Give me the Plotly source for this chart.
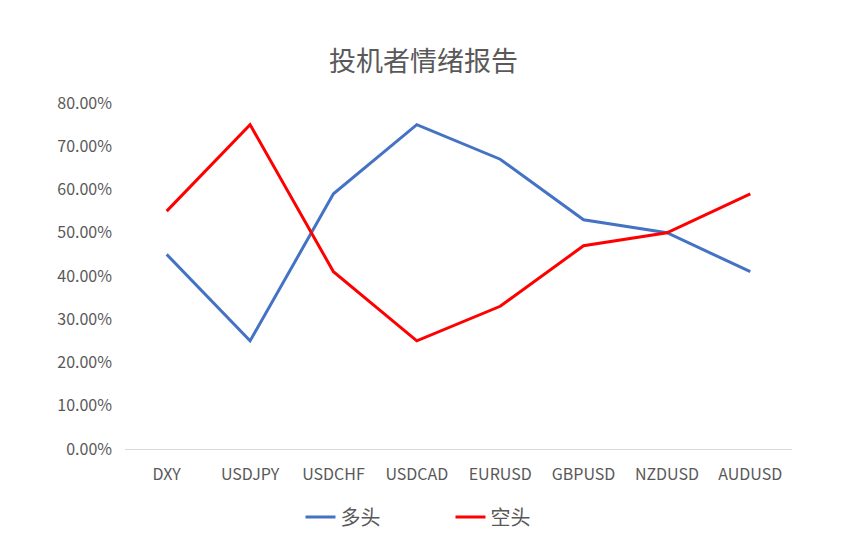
import plotly.graph_objects as go

# 投机者情绪报告 data
pairs = ["DXY", "USDJPY", "USDCHF", "USDCAD", "EURUSD", "GBPUSD", "NZDUSD", "AUDUSD"]
long_pct = [0.45, 0.25, 0.59, 0.75, 0.67, 0.53, 0.50, 0.41]
short_pct = [0.55, 0.75, 0.41, 0.25, 0.33, 0.47, 0.50, 0.59]
y_ticks = [0.0, 0.1, 0.2, 0.3, 0.4, 0.5, 0.6, 0.7, 0.8]

font_family = "Noto Sans CJK SC, Microsoft YaHei, sans-serif"

fig = go.Figure()
fig.add_trace(go.Scatter(x=pairs, y=long_pct, name="多头", mode="lines",
                         line=dict(color="#4472C4", width=3)))
fig.add_trace(go.Scatter(x=pairs, y=short_pct, name="空头", mode="lines",
                         line=dict(color="#FF0000", width=3)))

fig.update_layout(
    width=847, height=545,
    paper_bgcolor="white", plot_bgcolor="white",
    font=dict(family=font_family, color="#595959", size=16),
    title=dict(text="投机者情绪报告", xref="container", x=0.4906, xanchor="center",
               yref="container", y=0.901, yanchor="middle",
               font=dict(size=27, color="#595959")),
    margin=dict(l=117, r=63, t=95, b=104),
    xaxis=dict(range=[-0.5, 7.5], showgrid=False, showline=True, linecolor="#D9D9D9",
               linewidth=1, ticks="", tickfont=dict(size=16), ticklabelstandoff=11),
    yaxis=dict(range=[0, 0.8], tickvals=y_ticks, tickformat=".2%", showgrid=False,
               zeroline=False, showline=False, tickfont=dict(size=16), ticklabelstandoff=12),
    legend=dict(orientation="h", xref="paper", x=0.488, xanchor="center",
                yref="container", y=0.066, yanchor="middle", entrywidth=105,
                font=dict(size=20)),
    showlegend=True,
)

fig.write_html("out.html")
